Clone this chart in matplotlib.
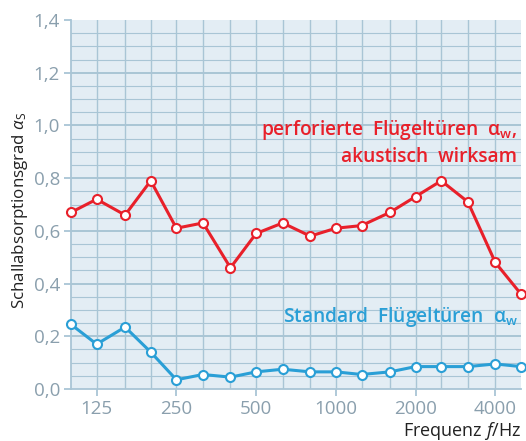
import matplotlib
matplotlib.use("Agg")
import matplotlib.pyplot as plt
from matplotlib.ticker import FixedLocator, FixedFormatter, NullLocator

# Third-octave band centre frequencies (Hz)
freqs = [100, 125, 160, 200, 250, 315, 400, 500, 630, 800, 1000,
         1250, 1600, 2000, 2500, 3150, 4000, 5000]

# Sound absorption coefficient, perforated (acoustically effective) doors
alpha_perforated = [0.67, 0.72, 0.66, 0.79, 0.61, 0.63, 0.46, 0.59, 0.63,
                    0.58, 0.61, 0.62, 0.67, 0.73, 0.79, 0.71, 0.48, 0.36]

# Sound absorption coefficient, standard doors
alpha_standard = [0.245, 0.17, 0.235, 0.14, 0.035, 0.055, 0.045, 0.065, 0.075,
                  0.065, 0.065, 0.055, 0.065, 0.085, 0.085, 0.085, 0.095, 0.085]

x_tick_values = [125, 250, 500, 1000, 2000, 4000]
x_tick_labels = ["125", "250", "500", "1000", "2000", "4000"]
y_tick_values = [0.0, 0.2, 0.4, 0.6, 0.8, 1.0, 1.2, 1.4]
y_tick_labels = ["0,0", "0,2", "0,4", "0,6", "0,8", "1,0", "1,2", "1,4"]

RED = "#e8202a"
BLUE = "#2a9fd6"
BG = "#e3edf4"
GRID = "#a9c5d5"
TICKCOL = "#8a9fad"

plt.rcParams["font.family"] = ["Open Sans", "DejaVu Sans"]
plt.rcParams["mathtext.fontset"] = "custom"
plt.rcParams["mathtext.rm"] = "Open Sans"
plt.rcParams["mathtext.it"] = "Open Sans:italic"
plt.rcParams["mathtext.bf"] = "Open Sans:semibold"

fig = plt.figure(figsize=(5.26, 4.41), dpi=100)
ax = fig.add_axes([71 / 526, 1 - 389 / 441, 450 / 526, 369 / 441])
ax.set_facecolor(BG)
ax.set_xscale("log")
ax.set_xlim(100, 5000)
ax.set_ylim(0, 1.4)

# grid: one vertical line per band, fine horizontal lines every 0.05
for f in freqs[1:-1]:
    ax.axvline(f, color=GRID, lw=1.0, zorder=1)
for k in range(1, 28):
    v = k * 0.05
    major = (k % 4 == 0)
    ax.axhline(v, color=GRID, lw=1.4 if major else 0.8, zorder=1)

ax.xaxis.set_major_locator(FixedLocator(x_tick_values))
ax.xaxis.set_major_formatter(FixedFormatter(x_tick_labels))
ax.xaxis.set_minor_locator(NullLocator())
ax.yaxis.set_major_locator(FixedLocator(y_tick_values))
ax.yaxis.set_major_formatter(FixedFormatter(y_tick_labels))

ax.tick_params(axis="both", colors=GRID, labelcolor=TICKCOL, labelsize=13.5,
               length=5, width=1.3)
ax.tick_params(axis="y", pad=3)
ax.tick_params(axis="x", pad=3)

for side in ["top", "right"]:
    ax.spines[side].set_visible(False)
for side in ["left", "bottom"]:
    ax.spines[side].set_color(GRID)
    ax.spines[side].set_linewidth(1.3)

mk = dict(marker="o", markersize=6.5, markerfacecolor="white",
          markeredgewidth=1.5, lw=2.2, zorder=5, clip_on=False)
ax.plot(freqs, alpha_perforated, color=RED, markeredgecolor=RED, **mk)
ax.plot(freqs, alpha_standard, color=BLUE, markeredgecolor=BLUE, **mk)

label_kw = dict(fontsize=13.8, fontweight="semibold", ha="right",
                va="baseline", zorder=6)
ax.text(4850, 0.964, r"perforierte  Flügeltüren  $\mathbf{\alpha}_{\mathbf{w}}$,",
        color=RED, **label_kw)
ax.text(4850, 0.862, "akustisch  wirksam", color=RED, **label_kw)
ax.text(4850, 0.254, r"Standard  Flügeltüren  $\mathbf{\alpha}_{\mathbf{w}}$",
        color=BLUE, **label_kw)

fig.text(20 / 526, 1 - 210 / 441, r"Schallabsorptionsgrad $\alpha_{\mathrm{S}}$",
         rotation=90, ha="center", va="center", fontsize=12.2, color="#222222")
fig.text(521 / 526, 1 - 436 / 441, r"Frequenz $\mathit{f}$/Hz", ha="right",
         va="baseline", fontsize=13, color="#222222")

fig.savefig("out.png", dpi=100)
